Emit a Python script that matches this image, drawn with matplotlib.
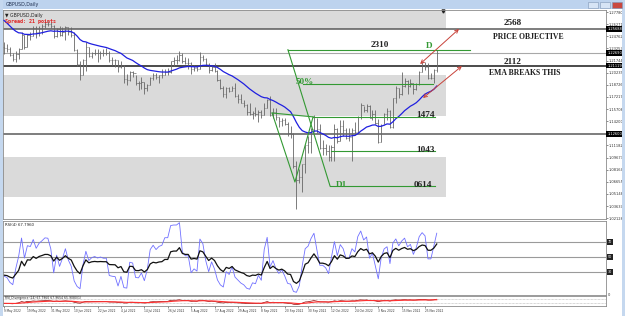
import numpy as np
import pandas as pd
import matplotlib
matplotlib.use('Agg')
import matplotlib.pyplot as plt
from matplotlib.patches import Rectangle
from matplotlib import transforms

# closes before the visible window (warm-up for EMA / RSI), Apr 1 - May 6 2022
warmup_close = [1.3115, 1.3110, 1.3070, 1.3070, 1.3065, 1.3030, 1.3030, 1.3000, 1.3120,
                1.3070, 1.3060, 1.3030, 1.3000, 1.3070, 1.3030, 1.2830, 1.2735, 1.2570,
                1.2520, 1.2490, 1.2570, 1.2490, 1.2495, 1.2625, 1.2355, 1.2345]

# daily GBPUSD bars, 9 May 2022 - 1 Dec 2022
close = [1.2335, 1.2318, 1.2246, 1.2200, 1.2257, 1.2315, 1.2490, 1.2345, 1.2490, 1.2484,
         1.2575, 1.2525, 1.2575, 1.2600, 1.2628, 1.2627, 1.2600, 1.2480, 1.2565, 1.2488,
         1.2530, 1.2590, 1.2530, 1.2490, 1.2310, 1.2130, 1.2000, 1.2180, 1.2350, 1.2235,
         1.2265, 1.2275, 1.2265, 1.2270, 1.2265, 1.2265, 1.2185, 1.2180, 1.2178, 1.2095,
         1.2115, 1.1945, 1.1930, 1.2030, 1.2025, 1.1895, 1.1890, 1.1905, 1.1830, 1.1865,
         1.1960, 1.1990, 1.1975, 1.1990, 1.1995, 1.2030, 1.2030, 1.2165, 1.2180, 1.2180,
         1.2250, 1.2165, 1.2150, 1.2150, 1.2075, 1.2085, 1.2075, 1.2215, 1.2200, 1.2130,
         1.2055, 1.2095, 1.2050, 1.1935, 1.1830, 1.1765, 1.1830, 1.1800, 1.1830, 1.1735,
         1.1695, 1.1650, 1.1620, 1.1540, 1.1510, 1.1525, 1.1515, 1.1530, 1.1500, 1.1590,
         1.1680, 1.1500, 1.1540, 1.1470, 1.1420, 1.1435, 1.1380, 1.1270, 1.1255, 1.0860,
         1.0685, 1.0730, 1.0890, 1.1120, 1.1165, 1.1320, 1.1475, 1.1320, 1.1090, 1.1090,
         1.1055, 1.0970, 1.1100, 1.1320, 1.1175, 1.1355, 1.1315, 1.1215, 1.1220, 1.1305,
         1.1285, 1.1475, 1.1620, 1.1565, 1.1615, 1.1465, 1.1510, 1.1395, 1.1160, 1.1375,
         1.1510, 1.1545, 1.1350, 1.1710, 1.1835, 1.1760, 1.1860, 1.1925, 1.1860, 1.1890,
         1.1825, 1.1885, 1.2030, 1.2115, 1.2100, 1.1960, 1.1960, 1.2055, 1.2265]
high = [1.2406, 1.2380, 1.2345, 1.2265, 1.2295, 1.2330, 1.2525, 1.2495, 1.2500, 1.2525,
        1.2600, 1.2600, 1.2600, 1.2630, 1.2667, 1.2665, 1.2655, 1.2615, 1.2580, 1.2600,
        1.2595, 1.2600, 1.2598, 1.2590, 1.2530, 1.2320, 1.2165, 1.2200, 1.2406, 1.2350,
        1.2285, 1.2325, 1.2320, 1.2300, 1.2325, 1.2330, 1.2290, 1.2215, 1.2200, 1.2180,
        1.2165, 1.2120, 1.2010, 1.2040, 1.2040, 1.2000, 1.1920, 1.1965, 1.1905, 1.1880,
        1.1975, 1.2015, 1.2020, 1.2000, 1.2065, 1.2065, 1.2080, 1.2175, 1.2215, 1.2245,
        1.2293, 1.2270, 1.2215, 1.2210, 1.2160, 1.2120, 1.2110, 1.2276, 1.2250, 1.2210,
        1.2140, 1.2125, 1.2145, 1.2060, 1.1950, 1.1855, 1.1845, 1.1850, 1.1860, 1.1900,
        1.1760, 1.1760, 1.1690, 1.1630, 1.1650, 1.1550, 1.1595, 1.1565, 1.1560, 1.1650,
        1.1700, 1.1738, 1.1590, 1.1590, 1.1470, 1.1455, 1.1455, 1.1405, 1.1355, 1.1275,
        1.0930, 1.0830, 1.0890, 1.1130, 1.1235, 1.1335, 1.1495, 1.1465, 1.1380, 1.1185,
        1.1140, 1.1130, 1.1125, 1.1380, 1.1335, 1.1440, 1.1435, 1.1335, 1.1335, 1.1340,
        1.1410, 1.1480, 1.1645, 1.1615, 1.1630, 1.1625, 1.1560, 1.1565, 1.1450, 1.1390,
        1.1525, 1.1590, 1.1555, 1.1710, 1.1855, 1.1835, 1.2029, 1.1960, 1.1935, 1.1950,
        1.1890, 1.1900, 1.2040, 1.2155, 1.2155, 1.2150, 1.2025, 1.2065, 1.2310]
low = [1.2260, 1.2287, 1.2227, 1.2165, 1.2155, 1.2200, 1.2315, 1.2325, 1.2345, 1.2435,
       1.2475, 1.2460, 1.2480, 1.2505, 1.2585, 1.2600, 1.2580, 1.2460, 1.2465, 1.2475,
       1.2485, 1.2425, 1.2490, 1.2470, 1.2300, 1.2110, 1.1934, 1.1990, 1.2040, 1.2220,
       1.2210, 1.2245, 1.2160, 1.2200, 1.2235, 1.2240, 1.2160, 1.2125, 1.2090, 1.2030,
       1.2080, 1.1900, 1.1875, 1.1915, 1.1975, 1.1870, 1.1805, 1.1825, 1.1760, 1.1800,
       1.1865, 1.1935, 1.1950, 1.1890, 1.1960, 1.1990, 1.2000, 1.2020, 1.2110, 1.2130,
       1.2170, 1.2140, 1.2130, 1.2070, 1.2005, 1.2040, 1.2050, 1.2065, 1.2170, 1.2115,
       1.2015, 1.2040, 1.2030, 1.1920, 1.1815, 1.1720, 1.1715, 1.1780, 1.1790, 1.1720,
       1.1650, 1.1650, 1.1600, 1.1500, 1.1500, 1.1445, 1.1490, 1.1405, 1.1460, 1.1500,
       1.1580, 1.1480, 1.1460, 1.1430, 1.1350, 1.1355, 1.1375, 1.1235, 1.1210, 1.0840,
       1.0330, 1.0650, 1.0540, 1.0780, 1.1025, 1.1025, 1.1290, 1.1275, 1.1080, 1.1000,
       1.0995, 1.0925, 1.0924, 1.0925, 1.1145, 1.1175, 1.1240, 1.1200, 1.1170, 1.0923,
       1.1250, 1.1275, 1.1450, 1.1530, 1.1535, 1.1460, 1.1440, 1.1380, 1.1150, 1.1155,
       1.1380, 1.1430, 1.1335, 1.1340, 1.1650, 1.1710, 1.1750, 1.1840, 1.1765, 1.1845,
       1.1765, 1.1810, 1.1875, 1.2030, 1.2055, 1.1945, 1.1945, 1.1900, 1.2030]

date_labels = ['9 May 2022', '19 May 2022', '31 May 2022', '10 Jun 2022', '22 Jun 2022',
               '4 Jul 2022', '14 Jul 2022', '26 Jul 2022', '5 Aug 2022', '17 Aug 2022',
               '29 Aug 2022', '8 Sep 2022', '20 Sep 2022', '30 Sep 2022', '12 Oct 2022',
               '24 Oct 2022', '3 Nov 2022', '15 Nov 2022', '25 Nov 2022']

# analyst objects: (bar index, price)
hlines_full = [(1.2568, '#5a5a5a', 1.1), (1.2269, '#a8a8a8', 0.8),
               (1.2112, '#1a1a1a', 1.1), (1.1260, '#5a5a5a', 1.1)]
zones = [(1.2568, 1.2900), (1.1485, 1.1995), (1.0476, 1.0974)]
zone_end = 151.2
green_levels = [(1.2310, 97.1, 159.4), (1.1883, 102.3, 146.7), (1.1474, 105.7, 147.5),
                (1.1043, 112.0, 147.5), (1.0614, 111.5, 147.5)]
green_legs = [[(97.1, 1.2310), (111.5, 1.0614)],
              [(91.7, 1.1522), (99.5, 1.0663), (105.7, 1.1474)],
              [(91.7, 1.1522), (105.7, 1.1474)]]
red_arrows = [((142.3, 1.2132), (155.6, 1.2568)), ((143.3, 1.1709), (156.6, 1.2107))]
level_texts = [('2310', 128.6, 1.2369, '#222222'), ('D', 145.3, 1.2362, '#339933'),
               ('50%', 103.0, 1.1905, '#339933'), ('1474', 144.3, 1.1495, '#222222'),
               ('1043', 144.3, 1.1065, '#222222'), ('D1', 115.6, 1.0630, '#339933'),
               ('0614', 143.3, 1.0630, '#222222'), ('2568', 174.1, 1.2643, '#222222'),
               ('2112', 174.1, 1.2157, '#222222')]
notes = [('PRICE OBJECTIVE', 179.2, 1.2468), ('EMA BREAKS THIS', 178.2, 1.2020)]
price_boxes = [1.25688, 1.22690, 1.21119, 1.12600]

W, H = 625, 316


def rect(x0, y0, x1, y1):
    return [x0 / W, 1 - y1 / H, (x1 - x0) / W, (y1 - y0) / H]


def rsi(values, n):
    values = np.asarray(values, dtype=float)
    diff = np.diff(values)
    gain = np.clip(diff, 0, None)
    loss = np.clip(-diff, 0, None)
    ag, al = gain[:n].mean(), loss[:n].mean()
    out = np.full(len(values), np.nan)
    out[n] = 100 - 100 / (1 + ag / al)
    for i in range(n, len(diff)):
        ag = (ag * (n - 1) + gain[i]) / n
        al = (al * (n - 1) + loss[i]) / n
        out[i + 1] = 100 - 100 / (1 + ag / al) if al > 0 else 100
    return out


allc = warmup_close + close
nw = len(warmup_close)
ema = pd.Series(allc).ewm(span=21, adjust=False).mean().values[nw:]
rsi_fast = rsi(allc, 4)[nw:]
rsi14_all = rsi(allc, 14)
rsi_slow = rsi14_all[nw:]
div_line = pd.Series(rsi14_all).ewm(span=9, adjust=False).mean().values[nw:]

idx = np.arange(len(close))
opens = [warmup_close[-1]] + close[:-1]

xmin, xmax = (3 - 4) / 2.924, (606 - 4) / 2.924

fig = plt.figure(figsize=(6.25, 3.16), dpi=100)
fig.patch.set_facecolor('white')

# window frame
fig.add_artist(Rectangle((0, 1 - 9 / H), 1, 9 / H, transform=fig.transFigure,
                         fc='#bdd3ee', ec='none'))
fig.add_artist(Rectangle((0, 0), 3 / W, 1, transform=fig.transFigure, fc='#c5d8ef', ec='none'))
fig.add_artist(Rectangle((622 / W, 0), 3 / W, 1, transform=fig.transFigure, fc='#c5d8ef', ec='none'))
for bx, col in [(588, '#d6e4f5'), (600, '#d6e4f5'), (612, '#c9483f')]:
    fig.add_artist(Rectangle((bx / W, 1 - 8 / H), 10 / W, 6 / H, transform=fig.transFigure,
                             fc=col, ec='#7f95b5', lw=0.4))
fig.text(6 / W, 1 - 4.5 / H, 'GBPUSD,Daily', fontsize=3.4, color='#203050', va='center')

# ---- main price window ----
ax = fig.add_axes(rect(3, 10, 606, 219))
ax.set_xlim(xmin, xmax)
ax.set_ylim(1.02025, 1.28046)

for lo, hi in zones:
    ax.add_patch(Rectangle((xmin, lo), zone_end - xmin, hi - lo, fc='#dadada', ec='none', zorder=0))
for price, col, lw in hlines_full:
    ax.axhline(price, color=col, lw=lw, zorder=1)

ax.vlines(idx, low, high, color='#676767', lw=0.6, zorder=2)
ax.hlines(opens, idx - 0.4, idx, color='#676767', lw=0.5, zorder=2)
ax.hlines(close, idx, idx + 0.4, color='#676767', lw=0.5, zorder=2)
ax.plot(idx, ema, color='#1f1fe0', lw=0.9, zorder=3)

for price, x0, x1 in green_levels:
    ax.plot([x0, x1], [price, price], color='#339933', lw=0.8, zorder=4)
for leg in green_legs:
    xs, ys = zip(*leg)
    ax.plot(xs, ys, color='#339933', lw=0.8, zorder=4)
for a, b in red_arrows:
    ax.annotate('', xy=b, xytext=a,
                arrowprops=dict(arrowstyle='<->', color='#c8423a', lw=0.7,
                                mutation_scale=6, shrinkA=0, shrinkB=0), zorder=5)
for txt, x, y, col in level_texts:
    ax.text(x, y, txt, fontsize=6.6, color=col, ha='center', va='center',
            family='Liberation Serif', fontweight='bold', zorder=6)
for txt, x, y in notes:
    ax.text(x, y, txt, fontsize=5.6, color='#222222', ha='center', va='center',
            family='Liberation Serif', fontweight='bold', zorder=6)

ax.text(0.004, 0.985, '\u25bc GBPUSD,Daily', transform=ax.transAxes, fontsize=3.3,
        color='#222222', va='top', ha='left')
ax.text(0.004, 0.955, 'Spread: 21 points', transform=ax.transAxes, fontsize=3.6,
        color='#e02020', va='top', ha='left', family='DejaVu Sans Mono', fontweight='bold')
ax.plot([150.1], [1.2795], marker='v', color='#222222', ms=2.2, clip_on=False)

# right price scale; labels that sit under a price box are left out
step = 12.12 * 0.001245
ticks = [1.27780 - k * step for k in range(18)]
ax.yaxis.tick_right()
ax.set_yticks(ticks)
ax.set_yticklabels(['' if min(abs(t - p) for p in price_boxes) < 0.005 else f'{t:.5f}'
                    for t in ticks])
ax.tick_params(axis='y', labelsize=2.6, length=1.2, width=0.4, pad=0.8, colors='#333333')
ax.set_xticks([])
trans = transforms.blended_transform_factory(ax.transAxes, ax.transData)
for p in price_boxes:
    ax.text(1.002, p, f'{p:.5f}', transform=trans, fontsize=2.6, color='white',
            va='center', ha='left', clip_on=False,
            bbox=dict(boxstyle='square,pad=0.2', fc='black', ec='none'))
for s in ax.spines.values():
    s.set_color('#8a8a8a')
    s.set_linewidth(0.6)

# ---- RSI window ----
ax2 = fig.add_axes(rect(3, 221, 606, 295))
ax2.set_xlim(xmin, xmax)
ax2.set_ylim(-0.7, 98)
for lv in (70, 50, 30):
    ax2.axhline(lv, color='#9a9a9a', lw=0.8)
ax2.plot(idx, rsi_fast, color='#7070ff', lw=0.6)
ax2.plot(idx, rsi_slow, color='#111111', lw=0.9)
ax2.text(0.004, 0.97, 'RSI(4) 67.7960', transform=ax2.transAxes, fontsize=2.8,
         color='#222222', va='top', ha='left')
ax2.set_xticks([])
ax2.yaxis.tick_right()
ax2.set_yticks([0])
ax2.set_yticklabels(['0'])
ax2.tick_params(axis='y', labelsize=2.6, length=0, pad=1.5, colors='#333333')
t2 = transforms.blended_transform_factory(ax2.transAxes, ax2.transData)
for lv in (70, 50, 30):
    ax2.text(1.003, lv, f'{lv}', transform=t2, fontsize=2.4, color='white', va='center',
             ha='left', clip_on=False, bbox=dict(boxstyle='square,pad=0.2', fc='#222222', ec='none'))
for s in ax2.spines.values():
    s.set_color('#8a8a8a')
    s.set_linewidth(0.6)

# ---- RSI divergence window ----
ax3 = fig.add_axes(rect(3, 296, 606, 306))
ax3.set_xlim(xmin, xmax)
ax3.set_ylim(0, 100)
for lv in (70, 30):
    ax3.axhline(lv, color='#b0b0b0', lw=0.5, ls=(0, (1, 1)))
ax3.plot(idx, rsi_slow, color='#8b0000', lw=0.5)
ax3.plot(idx, div_line, color='#ff3030', lw=0.8)
ax3.text(0.004, 0.95, 'RSI_Divergence (14) 67.7960 67.9654 65.9080(1)', transform=ax3.transAxes,
         fontsize=2.2, color='#222222', va='top', ha='left')
ax3.set_yticks([])
ax3.set_xticks(np.arange(0, len(close), 8)[:len(date_labels)])
ax3.set_xticklabels(date_labels)
for lbl in ax3.get_xticklabels():
    lbl.set_ha('left')
ax3.tick_params(axis='x', labelsize=2.1, length=1.2, width=0.4, pad=1.0, colors='#333333')
for s in ax3.spines.values():
    s.set_color('#8a8a8a')
    s.set_linewidth(0.6)

fig.savefig('out.png', dpi=100)
